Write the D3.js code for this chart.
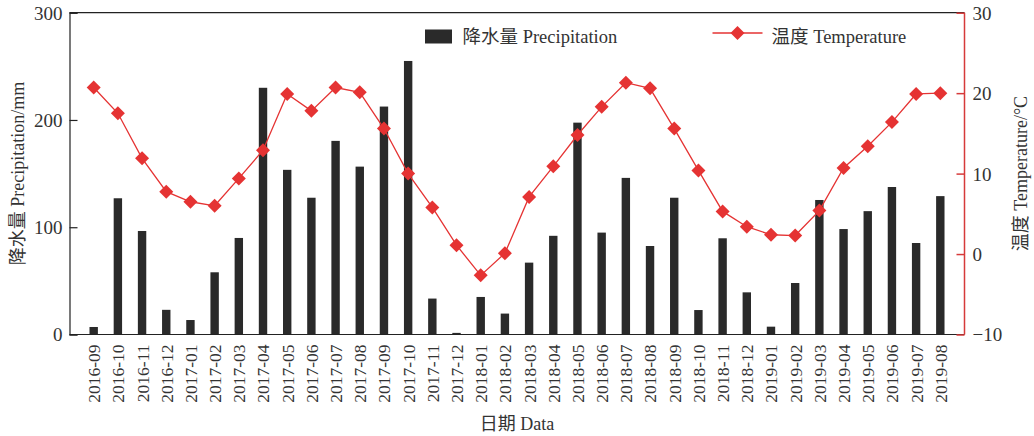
<!DOCTYPE html>
<html>
<head>
<meta charset="utf-8">
<script src="https://cdn.jsdelivr.net/npm/d3@7/dist/d3.min.js"></script>
<style>
  html, body { margin: 0; padding: 0; background: #fff; }
  svg text { font-family: "Liberation Serif", "Noto Sans CJK SC", serif; fill: #333; }
</style>
</head>
<body>
<svg id="chart" width="1034" height="436"></svg>
<script>
// Monthly records, Sept 2016 – Aug 2019
const months = [
  "2016-09","2016-10","2016-11","2016-12",
  "2017-01","2017-02","2017-03","2017-04","2017-05","2017-06","2017-07","2017-08","2017-09","2017-10","2017-11","2017-12",
  "2018-01","2018-02","2018-03","2018-04","2018-05","2018-06","2018-07","2018-08","2018-09","2018-10","2018-11","2018-12",
  "2019-01","2019-02","2019-03","2019-04","2019-05","2019-06","2019-07","2019-08"
];
// Precipitation (mm)
const precipitation = [
  7, 127, 96.5, 23,
  13.5, 58, 90, 230, 153.5, 127.5, 180.5, 156.5, 212.5, 255, 33.5, 1.5,
  35, 19.5, 67, 92, 197.5, 95, 146, 82.5, 127.5, 22.8, 89.7, 39.3,
  7.3, 48, 125.4, 98.3, 115, 137.5, 85.3, 129
];
// Temperature (°C)
const temperature = [
  20.7, 17.5, 11.9, 7.75,
  6.5, 6.0, 9.4, 12.9, 19.9, 17.8, 20.7, 20.1, 15.6, 10.0, 5.8, 1.1,
  -2.65, 0.1, 7.1, 10.9, 14.8, 18.3, 21.3, 20.6, 15.6, 10.4, 5.3, 3.4,
  2.4, 2.3, 5.4, 10.7, 13.4, 16.4, 19.9, 20.0
];
const precipTicks = [0, 100, 200, 300];
const tempTicks = [-10, 0, 10, 20, 30];

const RED = "#e53333";
const AXIS_RED = "#d63a3a";
const BAR = "#2a2a2a";

const svg = d3.select("#chart");
const plotLeft = 69.5, plotRight = 964.5, plotTop = 12.7, plotBottom = 334.5;

const x = d3.scalePoint().domain(months).range([plotLeft, plotRight]).padding(1);
const yP = d3.scaleLinear().domain([0, 300]).range([plotBottom, plotTop]);
const yT = d3.scaleLinear().domain([-10, 30]).range([plotBottom, plotTop]);

// bars
svg.append("g").selectAll("rect")
  .data(months)
  .join("rect")
  .attr("x", d => x(d) - 4.2)
  .attr("width", 8.4)
  .attr("y", (d, i) => yP(precipitation[i]))
  .attr("height", (d, i) => plotBottom - yP(precipitation[i]))
  .attr("fill", BAR);

// top frame
svg.append("line")
  .attr("x1", plotLeft).attr("x2", plotRight).attr("y1", plotTop).attr("y2", plotTop)
  .attr("stroke", "#222").attr("stroke-width", 1.2);

// left axis
const gL = svg.append("g").attr("transform", `translate(${plotLeft},0)`)
  .call(d3.axisRight(yP).tickValues(precipTicks).tickSize(8).tickFormat(d3.format("d")));
gL.select(".domain").attr("stroke", "#222").attr("stroke-width", 1.2);
gL.selectAll(".tick line").attr("stroke", "#222").attr("stroke-width", 1.2);
gL.selectAll(".tick text")
  .attr("x", -7).attr("text-anchor", "end")
  .style("font-size", "19px").attr("dy", "0.34em");

// bottom axis
const gB = svg.append("g").attr("transform", `translate(0,${plotBottom})`)
  .call(d3.axisBottom(x).tickSize(0).tickSizeOuter(0));
gB.select(".domain").attr("stroke", "#222").attr("stroke-width", 1.2)
  .attr("d", `M${plotLeft},0H${plotRight}`);
gB.selectAll(".tick text")
  .attr("transform", "rotate(-90)")
  .attr("text-anchor", "end")
  .attr("x", -10).attr("y", 0).attr("dy", "0.34em")
  .style("font-size", "17.5px");

// right axis
const gR = svg.append("g").attr("transform", `translate(${plotRight},0)`)
  .call(d3.axisLeft(yT).tickValues(tempTicks).tickSize(8)
    .tickFormat(d => d < 0 ? "\u2212" + Math.abs(d) : d));
gR.select(".domain").attr("stroke", AXIS_RED).attr("stroke-width", 1.5)
  .attr("d", `M0,${plotTop}V${plotBottom}`);
gR.selectAll(".tick line").attr("stroke", AXIS_RED).attr("stroke-width", 1.5);
gR.selectAll(".tick text")
  .attr("x", 8).attr("text-anchor", "start")
  .style("font-size", "19px").attr("dy", "0.34em");

// temperature line
const line = d3.line().x(d => x(d[0])).y(d => yT(d[1]));
svg.append("path")
  .datum(months.map((m, i) => [m, temperature[i]]))
  .attr("d", line)
  .attr("fill", "none").attr("stroke", RED).attr("stroke-width", 1.3);

const diamond = r => `M0,${-r}L${r},0L0,${r}L${-r},0Z`;
svg.append("g").selectAll("path")
  .data(months)
  .join("path")
  .attr("transform", (d, i) => `translate(${x(d)},${yT(temperature[i])})`)
  .attr("d", diamond(7))
  .attr("fill", RED);

// axis titles
svg.append("text")
  .attr("transform", `translate(24,${(plotTop + plotBottom) / 2}) rotate(-90)`)
  .attr("text-anchor", "middle")
  .style("font-size", "18px")
  .text("降水量 Precipitation/mm");

svg.append("text")
  .attr("transform", `translate(1027,${(plotTop + plotBottom) / 2}) rotate(-90)`)
  .attr("text-anchor", "middle")
  .style("font-size", "18px")
  .text("温度 Temperature/°C");

svg.append("text")
  .attr("x", (plotLeft + plotRight) / 2).attr("y", 430)
  .attr("text-anchor", "middle")
  .style("font-size", "18px")
  .text("日期 Data");

// legend
svg.append("rect")
  .attr("x", 425).attr("y", 29.5).attr("width", 27).attr("height", 14)
  .attr("fill", BAR);
svg.append("text")
  .attr("x", 462.5).attr("y", 42.5)
  .style("font-size", "18.5px")
  .text("降水量 Precipitation");

svg.append("line")
  .attr("x1", 712.5).attr("x2", 762.5).attr("y1", 33).attr("y2", 33)
  .attr("stroke", RED).attr("stroke-width", 1.3);
svg.append("path")
  .attr("transform", "translate(737.5,33)")
  .attr("d", diamond(7))
  .attr("fill", RED);
svg.append("text")
  .attr("x", 771.5).attr("y", 42.5)
  .style("font-size", "18.5px")
  .text("温度 Temperature");
</script>
</body>
</html>
